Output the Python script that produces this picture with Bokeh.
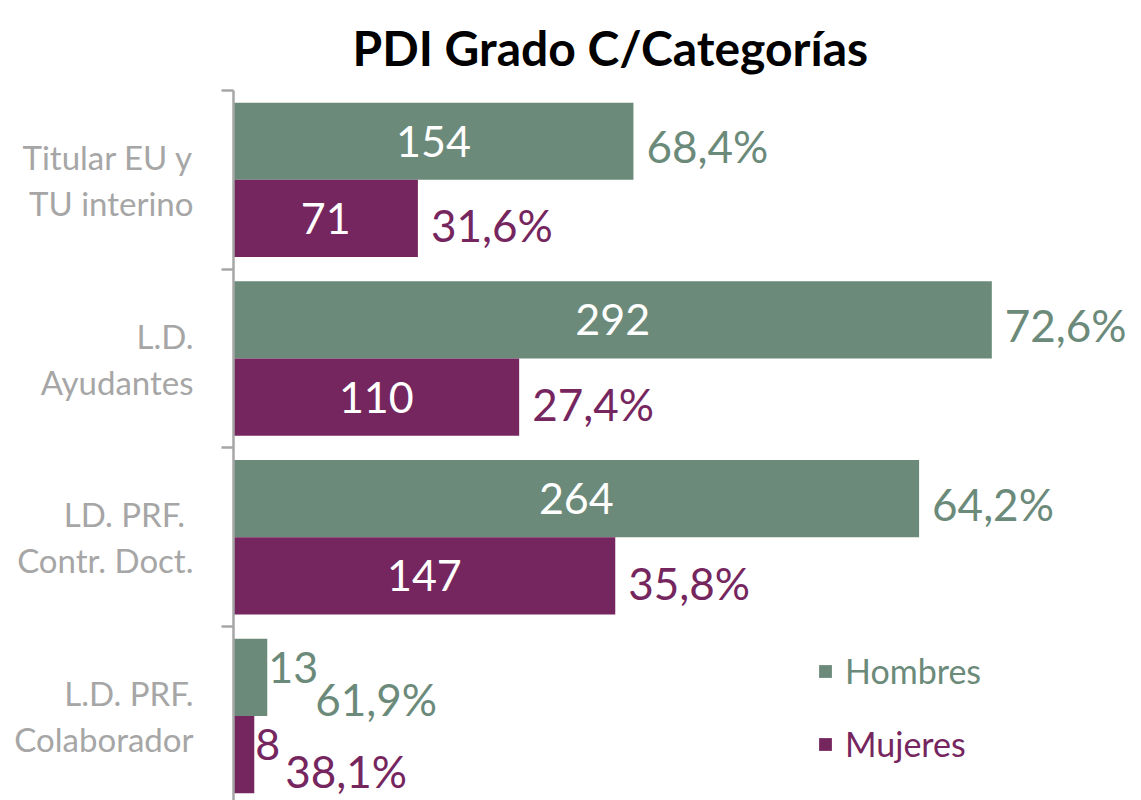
from bokeh.plotting import figure
from bokeh.models import (Range1d, FixedTicker, ColumnDataSource, LabelSet, Legend, LegendItem)
from bokeh.core.properties import value
from bokeh.embed import file_html
from bokeh.resources import INLINE

# ---- data ----
categories = ["Titular EU y\nTU interino", "L.D.\nAyudantes", "LD.  PRF.\nContr. Doct.", "L.D. PRF.\nColaborador"]
hombres = [154, 292, 264, 13]
mujeres = [71, 110, 147, 8]
series_names = ["Hombres", "Mujeres"]
title_text = "PDI Grado C/Categorías"

GREEN = "#6b8a7a"
PURPLE = "#76265e"
GREY = "#a6a6a6"
FONT = "Lato"

n = len(categories)
W, H = 1141, 800
LEFT = 233
TOP = 90
cat_px = 178.7
frame_h = H - TOP
y_start = n - frame_h / cat_px
px_per_unit = 2.597
x_end = (W - LEFT) / px_per_unit

p = figure(width=W, height=H, output_backend="svg", toolbar_location=None,
           x_range=Range1d(0, x_end), y_range=Range1d(y_start, n),
           min_border_left=LEFT, min_border_right=0, min_border_top=TOP, min_border_bottom=0)
p.outline_line_color = None
p.xgrid.visible = False
p.ygrid.visible = False
p.xaxis.visible = False

p.title.text = title_text
p.title.text_font = FONT
p.title.text_font_style = "bold"
p.title.text_font_size = "48px"
p.title.text_color = "black"
p.title.align = "left"
p.title.offset = 119
p.title.standoff = 30

centers = [n - i - 0.5 for i in range(n)]

ax = p.yaxis[0]
ax.ticker = FixedTicker(ticks=centers, minor_ticks=list(range(1, n + 1)))
ax.major_label_overrides = {c: t for c, t in zip(centers, categories)}
ax.major_label_text_font = FONT
ax.major_label_text_font_size = "33px"
ax.major_label_text_color = GREY
ax.major_label_text_line_height = 1.15
ax.major_label_standoff = 28
ax.major_tick_out = 0
ax.major_tick_in = 0
ax.minor_tick_out = 12
ax.minor_tick_in = 0
ax.axis_line_color = GREY
ax.axis_line_width = 2.5
ax.minor_tick_line_color = GREY
ax.minor_tick_line_width = 2.5

off = 0.216
bh = 0.432
yh = [c + off for c in centers]
ym = [c - off for c in centers]

src_h = ColumnDataSource(dict(y=yh, v=hombres))
src_m = ColumnDataSource(dict(y=ym, v=mujeres))
rh = p.hbar(y="y", right="v", left=0, height=bh, source=src_h, fill_color=GREEN, line_color=None)
rm = p.hbar(y="y", right="v", left=0, height=bh, source=src_m, fill_color=PURPLE, line_color=None)

# value + percentage labels
def fmt_pct(v):
    return f"{v * 100:.1f}%".replace(".", ",")

for k, (vals, ys, other, color) in enumerate([(hombres, yh, mujeres, GREEN), (mujeres, ym, hombres, PURPLE)]):
    in_x, in_y, in_t = [], [], []
    out_x, out_y, out_t = [], [], []
    pc_x, pc_y, pc_t, pc_xo, pc_yo = [], [], [], [], []
    for v, y, o in zip(vals, ys, other):
        pct = fmt_pct(v / (v + o))
        if v * px_per_unit > 60:
            in_x.append(v / 2); in_y.append(y); in_t.append(str(v))
            pc_x.append(v); pc_y.append(y); pc_t.append(pct); pc_xo.append(13); pc_yo.append(-5 - 2 * k)
        else:
            out_x.append(v); out_y.append(y); out_t.append(str(v))
            pc_x.append(v); pc_y.append(y); pc_t.append(pct); pc_xo.append(14 + 17 * len(str(v))); pc_yo.append(-22 + 6 * k)
    p.add_layout(LabelSet(x="x", y="y", text="t", source=ColumnDataSource(dict(x=in_x, y=in_y, t=in_t)),
                          text_align="center", text_baseline="middle", text_font=value(FONT),
                          text_font_size="43px", text_color="white"))
    if out_x:
        p.add_layout(LabelSet(x="x", y="y", text="t", source=ColumnDataSource(dict(x=out_x, y=out_y, t=out_t)),
                              x_offset=1, y_offset=10, text_align="left", text_baseline="middle",
                              text_font=value(FONT), text_font_size="43px", text_color=color))
    p.add_layout(LabelSet(x="x", y="y", text="t", x_offset="xo", y_offset="yo",
                          source=ColumnDataSource(dict(x=pc_x, y=pc_y, t=pc_t, xo=pc_xo, yo=pc_yo)),
                          text_align="left", text_baseline="middle", text_font=value(FONT),
                          text_font_size="44px", text_color=color))

# legends
for name, r, color, loc in [(series_names[0], rh, GREEN, (584, 109)), (series_names[1], rm, PURPLE, (584, 36))]:
    lg = Legend(items=[LegendItem(label=name, renderers=[r])], location=loc,
                label_text_color=color, label_text_font=FONT, label_text_font_size="34px",
                glyph_width=16, glyph_height=16, label_standoff=12, padding=0, margin=0,
                border_line_color=None, background_fill_alpha=0)
    p.add_layout(lg)

open("out.html", "w").write(file_html(p, INLINE))
